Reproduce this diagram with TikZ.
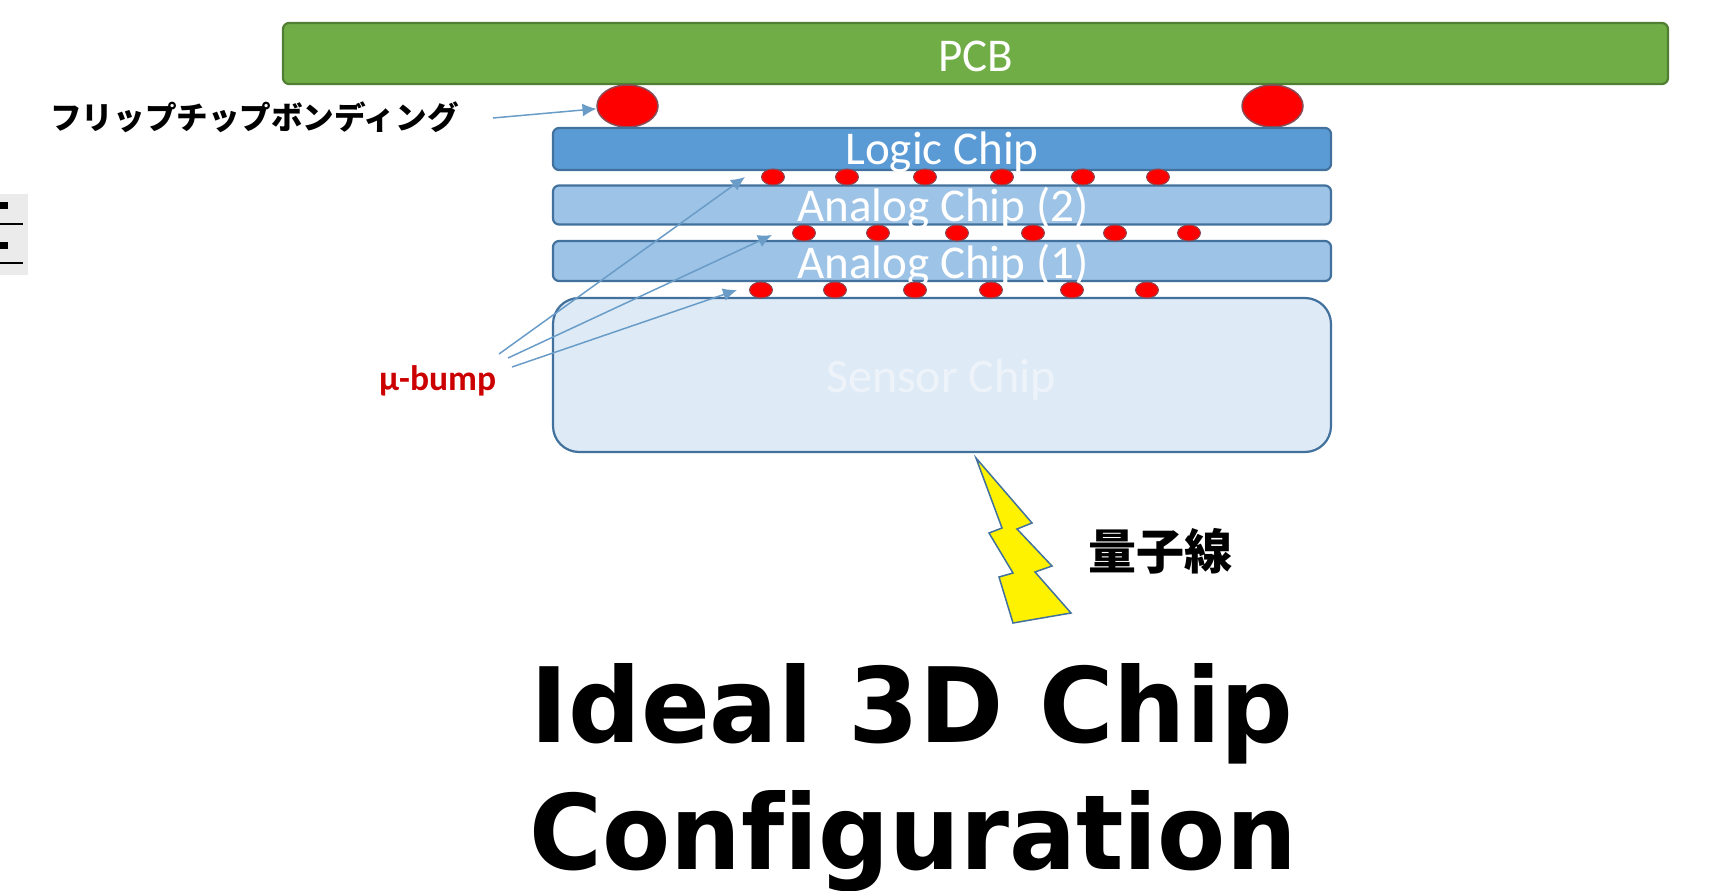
\documentclass[tikz,border=0pt]{standalone}
\usepackage{fontspec}
\setmainfont{Carlito}
\newfontfamily\jpfont{Noto Sans CJK JP}
\newfontfamily\titlefont[Ligatures=NoCommon]{DejaVu Sans}
\usetikzlibrary{arrows.meta,shapes.geometric}
\definecolor{pcbgreen}{HTML}{70AD47}
\definecolor{pcbedge}{HTML}{507E32}
\definecolor{logicblue}{HTML}{5B9BD5}
\definecolor{analogblue}{HTML}{9DC3E6}
\definecolor{sensorblue}{HTML}{DEEBF7}
\definecolor{chipedge}{HTML}{41719C}
\definecolor{sensortext}{HTML}{EEF3FA}
\definecolor{bumpedge}{HTML}{8A4A55}
\definecolor{leadblue}{HTML}{6A9CC8}
\tikzset{
  chip/.style={draw=chipedge,line width=2.2pt,rounded corners=6pt,inner sep=0pt},
  chiplabel/.style={white,inner sep=0pt,anchor=base,font=\fontsize{47}{47}\selectfont},
  ball/.style={ellipse,draw=bumpedge,line width=1.5pt,fill=red,inner sep=0pt,minimum width=61pt,minimum height=42pt},
  bump/.style={ellipse,draw=bumpedge,line width=1pt,fill=red,inner sep=0pt,minimum width=23pt,minimum height=16pt},
  lead/.style={leadblue,line width=1.5pt,-{Latex[length=14pt,width=13pt]}},
  titleline/.style={inner sep=0pt,anchor=base,font=\titlefont\bfseries\fontsize{104}{104}\selectfont}
}
\begin{document}
\begin{tikzpicture}[x=1pt,y=-1pt]
\useasboundingbox (0,0) rectangle (1711,891);
\fill[black!8] (0,194) rectangle (28,275);
\fill[black] (0,202) rectangle (8,209);
\fill[black] (0,223) rectangle (23,225);
\fill[black] (0,242) rectangle (8,249);
\fill[black] (0,262) rectangle (23,264);
\node[chip,draw=pcbedge,fill=pcbgreen,minimum width=1385pt,minimum height=61pt] (pcb) at (975.5,53.5) {};
\node[white,inner sep=0pt,anchor=base,font=\fontsize{47}{47}\selectfont] (pcblabel) at (976,71) {PCB};
\node[ball] (ballL) at (627.5,106) {};
\node[ball] (ballR) at (1272.5,106) {};
\node[chip,fill=logicblue,minimum width=778pt,minimum height=42pt] (logic) at (942,149) {};
\node[chip,fill=analogblue,minimum width=778pt,minimum height=39pt] (analogB) at (942,205) {};
\node[chip,fill=analogblue,minimum width=778pt,minimum height=40pt] (analogA) at (942,261) {};
\node[chip,rounded corners=26pt,fill=sensorblue,minimum width=778pt,minimum height=154pt] (sensor) at (942,375) {};
\node[chiplabel] (logiclabel) at (942,164) {Logic Chip};
\node[chiplabel] (analogBlabel) at (943,221) {Analog Chip (2)};
\node[chiplabel] (analogAlabel) at (943,278) {Analog Chip (1)};
\node[chiplabel,sensortext,font=\fontsize{48}{48}\selectfont] (sensorlabel) at (941,392) {Sensor Chip};
\node[bump] (t1) at (773,177) {};
\node[bump] (t2) at (847,177) {};
\node[bump] (t3) at (925,177) {};
\node[bump] (t4) at (1002,177) {};
\node[bump] (t5) at (1083,177) {};
\node[bump] (t6) at (1158,177) {};
\node[bump] (m1) at (804,233) {};
\node[bump] (m2) at (878,233) {};
\node[bump] (m3) at (957,233) {};
\node[bump] (m4) at (1033,233) {};
\node[bump] (m5) at (1115,233) {};
\node[bump] (m6) at (1189,233) {};
\node[bump] (s1) at (761,290) {};
\node[bump] (s2) at (835,290) {};
\node[bump] (s3) at (915,290) {};
\node[bump] (s4) at (991,290) {};
\node[bump] (s5) at (1072,290) {};
\node[bump] (s6) at (1147,290) {};
\node[inner sep=0pt,anchor=base west,font=\jpfont\bfseries\fontsize{31.6}{32}\selectfont] (bondlabel) at (50,129) {フリップチップボンディング};
\node[red!80!black,inner sep=0pt,anchor=base west,font=\bfseries\fontsize{35.5}{36}\selectfont] (bumplabel) at (379,390) {μ-bump};
\coordinate (bondfrom) at (493,118);
\coordinate (fromT) at (499,354);
\coordinate (fromM) at (508,358);
\coordinate (fromS) at (512,367);
\coordinate (tipT) at (745,177);
\coordinate (tipM) at (772,235);
\coordinate (tipS) at (737,290);
\draw[lead] (bondfrom) -- (ballL);
\draw[lead] (fromT) -- (tipT);
\draw[lead] (fromM) -- (tipM);
\draw[lead] (fromS) -- (tipS);
\draw[draw=chipedge,line width=1.5pt,fill=yellow,line join=miter] (976,458) -- (1032,523) -- (1017,529) -- (1052,566) -- (1035,572) -- (1071,613) -- (1013,623) -- (999,577) -- (1013,573) -- (989,533) -- (1002,528) -- cycle;
\node[inner sep=0pt,anchor=center,font=\jpfont\bfseries\fontsize{48}{48}\selectfont] (quantumlabel) at (1160,551) {量子線};
\node[titleline] (titleA) at (912,742) {\scalebox{.977}[1]{Ideal 3D Chip}};
\node[titleline] (titleB) at (913,869) {\scalebox{.955}[1]{Configuration}};
\end{tikzpicture}
\end{document}
